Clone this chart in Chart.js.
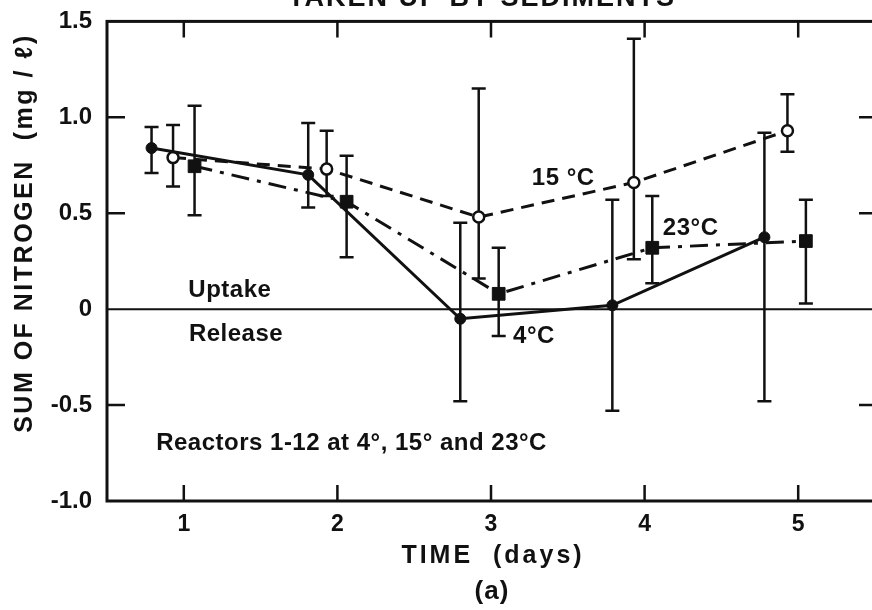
<!DOCTYPE html>
<html>
<head>
<meta charset="utf-8">
<title>Sum of nitrogen taken up by sediments</title>
<script src="https://cdn.jsdelivr.net/npm/chart.js@4.4.1/dist/chart.umd.min.js"></script>
<style>
  html, body { margin: 0; padding: 0; background: #fff; overflow: hidden; }
  canvas { display: block; }
</style>
</head>
<body>
<canvas id="myChart" width="885" height="610"></canvas>
<script>
// Nitrogen balance of the sediment reactors, mean with range bars

const xTicks = [1, 2, 3, 4, 5];
const yTicks = [-1, -0.5, 0, 0.5, 1, 1.5];
const yTickLabels = ['-1.0', '-0.5', '0', '0.5', '1.0', '1.5'];

// 4 °C reactors
const days4 = [0.79, 1.81, 2.80, 3.79, 4.78];
const mean4 = [0.84, 0.70, -0.05, 0.02, 0.375];
const low4 = [0.71, 0.53, -0.48, -0.53, -0.48];
const high4 = [0.95, 0.97, 0.45, 0.57, 0.92];

// 15 °C reactors
const days15 = [0.93, 1.93, 2.92, 3.93, 4.93];
const mean15 = [0.79, 0.73, 0.48, 0.66, 0.93];
const low15 = [0.64, 0.59, 0.16, 0.26, 0.82];
const high15 = [0.96, 0.93, 1.15, 1.41, 1.12];

// 23 °C reactors
const days23 = [1.07, 2.06, 3.05, 4.05, 5.05];
const mean23 = [0.745, 0.56, 0.08, 0.32, 0.355];
const low23 = [0.49, 0.27, -0.14, 0.135, 0.03];
const high23 = [1.06, 0.80, 0.32, 0.59, 0.57];

const FONT = "'Liberation Sans', Arial, sans-serif";
const INK = '#111';

// text written inside the plot, placed in data units
const notes = [
  { text: '15 °C', x: 3.47, y: 0.68, align: 'center' },
  { text: '23°C', x: 4.30, y: 0.42, align: 'center' },
  { text: '4°C', x: 3.28, y: -0.14, align: 'center' },
  { text: 'Uptake', x: 1.30, y: 0.10, align: 'center' },
  { text: 'Release', x: 1.34, y: -0.13, align: 'center' },
  { text: 'Reactors 1-12 at 4°, 15° and 23°C', x: 0.82, y: -0.70, align: 'left' }
];

function points(days, vals) {
  return days.map((d, i) => ({ x: d, y: vals[i] }));
}

const ranges = [
  { days: days4, low: low4, high: high4 },
  { days: days15, low: low15, high: high15 },
  { days: days23, low: low23, high: high23 }
];

const paperPlot = {
  id: 'paperPlot',
  beforeDatasetsDraw(chart) {
    const { ctx, chartArea: a, scales: { x, y } } = chart;
    ctx.save();
    ctx.strokeStyle = INK;
    ctx.lineCap = 'butt';

    // zero line between uptake and release
    ctx.lineWidth = 2;
    ctx.beginPath();
    ctx.moveTo(a.left, y.getPixelForValue(0));
    ctx.lineTo(a.right, y.getPixelForValue(0));
    ctx.stroke();

    // frame
    ctx.lineWidth = 3;
    ctx.strokeRect(a.left, a.top, a.right - a.left, a.bottom - a.top);

    // inward ticks
    ctx.lineWidth = 2.5;
    ctx.beginPath();
    xTicks.forEach(v => {
      const px = x.getPixelForValue(v);
      ctx.moveTo(px, a.top); ctx.lineTo(px, a.top + 16);
      ctx.moveTo(px, a.bottom); ctx.lineTo(px, a.bottom - 16);
    });
    yTicks.forEach(v => {
      if (v === 0 || v === yTicks[0] || v === yTicks[yTicks.length - 1]) return;
      const py = y.getPixelForValue(v);
      ctx.moveTo(a.left, py); ctx.lineTo(a.left + 18, py);
      ctx.moveTo(a.right, py); ctx.lineTo(a.right - 16, py);
    });
    ctx.stroke();

    // range bars with caps
    ctx.lineWidth = 2.5;
    ranges.forEach(r => {
      r.days.forEach((d, i) => {
        const px = x.getPixelForValue(d);
        const top = y.getPixelForValue(r.high[i]);
        const bot = y.getPixelForValue(r.low[i]);
        ctx.beginPath();
        ctx.moveTo(px, top); ctx.lineTo(px, bot);
        ctx.moveTo(px - 7, top); ctx.lineTo(px + 7, top);
        ctx.moveTo(px - 7, bot); ctx.lineTo(px + 7, bot);
        ctx.stroke();
      });
    });
    ctx.restore();
  },
  afterDraw(chart) {
    const { ctx, scales: { x, y } } = chart;
    ctx.save();
    ctx.fillStyle = INK;
    ctx.textBaseline = 'middle';
    ctx.font = `bold 24px ${FONT}`;
    ctx.letterSpacing = '0.5px';
    notes.forEach(n => {
      ctx.textAlign = n.align;
      ctx.fillText(n.text, x.getPixelForValue(n.x), y.getPixelForValue(n.y));
    });

    // heading, clipped by the top of the page
    ctx.textAlign = 'center';
    ctx.textBaseline = 'alphabetic';
    ctx.font = `bold 27px ${FONT}`;
    ctx.letterSpacing = '2px';
    ctx.fillText('TAKEN UP BY SEDIMENTS', 482, 6);

    // axis titles
    ctx.textBaseline = 'middle';
    ctx.font = `bold 25px ${FONT}`;
    ctx.letterSpacing = '3px';
    ctx.fillText('TIME  (days)', 493, 556);
    ctx.font = `bold 26px ${FONT}`;
    ctx.letterSpacing = '1px';
    ctx.fillText('(a)', 492, 592);

    ctx.font = `bold 25px ${FONT}`;
    ctx.letterSpacing = '2.5px';
    ctx.translate(25, 233);
    ctx.rotate(-Math.PI / 2);
    ctx.fillText('SUM OF NITROGEN  (mg / ℓ)', 0, 0);
    ctx.restore();
  }
};

const ctx = document.getElementById('myChart').getContext('2d');

new Chart(ctx, {
  type: 'line',
  data: {
    datasets: [
      {
        label: '4°C',
        data: points(days4, mean4),
        borderColor: INK,
        borderWidth: 3,
        pointStyle: 'circle',
        pointRadius: 5.5,
        pointBackgroundColor: INK,
        pointBorderColor: INK,
        pointBorderWidth: 1
      },
      {
        label: '15°C',
        data: points(days15, mean15),
        borderColor: INK,
        borderWidth: 3,
        borderDash: [13, 8],
        pointStyle: 'circle',
        pointRadius: 5.5,
        pointBackgroundColor: '#fff',
        pointBorderColor: INK,
        pointBorderWidth: 2.5
      },
      {
        label: '23°C',
        data: points(days23, mean23),
        borderColor: INK,
        borderWidth: 3,
        borderDash: [18, 8, 4, 8],
        pointStyle: 'rect',
        pointRadius: 9,
        pointBackgroundColor: INK,
        pointBorderColor: INK,
        pointBorderWidth: 1
      }
    ]
  },
  options: {
    responsive: false,
    animation: false,
    layout: { padding: { top: 21, right: 0, left: 0, bottom: 0 } },
    plugins: {
      legend: { display: false },
      tooltip: { enabled: false }
    },
    scales: {
      x: {
        type: 'linear',
        min: 0.5,
        max: 5.5,
        grid: { display: false },
        border: { display: false },
        afterBuildTicks: axis => { axis.ticks = xTicks.map(v => ({ value: v })); },
        afterFit: axis => {
          axis.height = 109;
          axis.paddingLeft = 0;
          axis.paddingRight = 0;
        },
        ticks: {
          color: INK,
          padding: 2,
          font: { family: FONT, size: 23, weight: 'bold' },
          callback: v => String(v)
        }
      },
      y: {
        type: 'linear',
        min: -1,
        max: 1.5,
        grid: { display: false },
        border: { display: false },
        afterBuildTicks: axis => { axis.ticks = yTicks.map(v => ({ value: v })); },
        afterFit: axis => { axis.width = 107; },
        ticks: {
          color: INK,
          padding: 7,
          font: { family: FONT, size: 24, weight: 'bold' },
          callback: (v, i) => yTickLabels[i]
        }
      }
    }
  },
  plugins: [paperPlot]
});
</script>
</body>
</html>
